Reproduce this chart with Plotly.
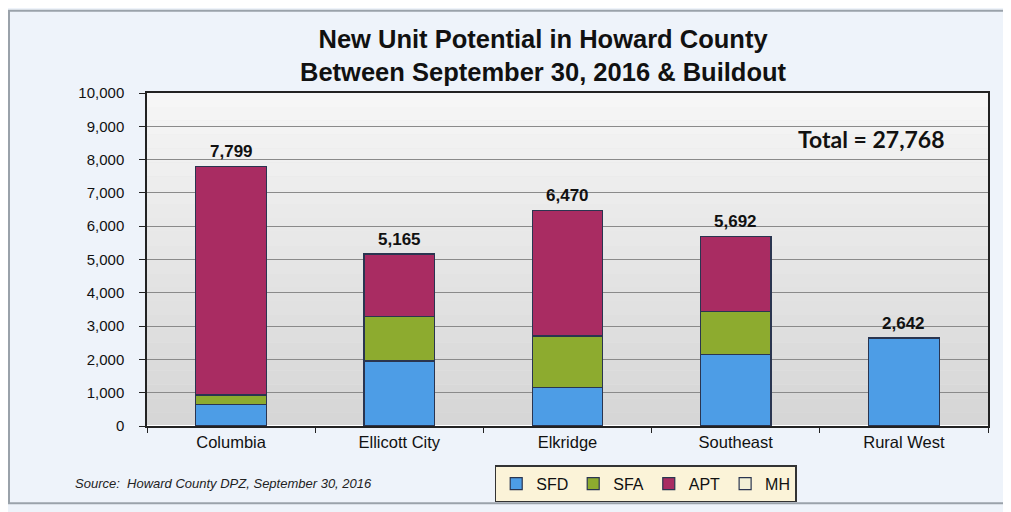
import plotly.graph_objects as go

categories = ["Columbia", "Ellicott City", "Elkridge", "Southeast", "Rural West"]
sfd = [650, 1950, 1150, 2150, 2642]
sfa = [280, 1350, 1550, 1300, 0]
apt = [6869, 1865, 3770, 2242, 0]
mh = [0, 0, 0, 0, 0]
totals = [7799, 5165, 6470, 5692, 2642]
total_label = "Total = 27,768"
y_ticks = [0, 1000, 2000, 3000, 4000, 5000, 6000, 7000, 8000, 9000, 10000]

series = [("SFD", sfd, "#4d9de6"), ("SFA", sfa, "#8dab2f"),
          ("APT", apt, "#a92c62"), ("MH", mh, "#f2f0d6")]

fig = go.Figure()
for name, vals, col in series:
    fig.add_trace(go.Bar(x=categories, y=vals, name=name,
                         marker=dict(color=col, line=dict(color="#2a3550", width=1.2)),
                         width=0.42))

for cat, tot in zip(categories, totals):
    fig.add_annotation(x=cat, y=tot, text=f"<b>{tot:,}</b>", showarrow=False,
                       yanchor="middle", yshift=15,
                       font=dict(family="Arial", size=17, color="#111"))

W, H = 1003, 506
L, R, T, B = 139, 23, 85, 81
PW, PH = W - L - R, H - T - B


def py(y_fig):
    """figure pixel row (from top) -> paper y"""
    return (H - B - y_fig) / PH


fig.update_layout(
    barmode="stack",
    width=W, height=H,
    paper_bgcolor="#eef3fa",
    plot_bgcolor="#e4e4e4",
    margin=dict(l=L, r=R, t=T, b=B),
    font=dict(family="Arial", color="#111"),
    legend=dict(orientation="h", x=0.593, xanchor="center", y=py(465), yanchor="top",
                bgcolor="#fbf3d8", bordercolor="#333", borderwidth=1.5,
                font=dict(family="Arial", size=16, color="#111"),
                traceorder="normal", itemwidth=30),
    xaxis=dict(showline=True, linecolor="#222", linewidth=1.5, mirror=True,
               ticks="outside", tickson="boundaries", ticklen=5, tickcolor="#222",
               tickfont=dict(family="Arial", size=16.5, color="#111")),
    yaxis=dict(range=[0, 10000], tickvals=y_ticks, tickformat=",d",
               showgrid=True, gridcolor="#8a8a8a", gridwidth=1,
               showline=True, linecolor="#222", linewidth=1.5, mirror=True,
               ticks="outside", ticklen=6, tickcolor="#222", ticklabelstandoff=12,
               tickfont=dict(family="Arial", size=15, color="#111")),
)

# soft vertical gradient in the plotting area
n = 24
for i in range(n):
    t = i / (n - 1)
    c = int(214 + (246 - 214) * t)
    fig.add_shape(type="rect", xref="paper", yref="paper", x0=0, x1=1,
                  y0=i / n, y1=(i + 1) / n, line=dict(width=0),
                  fillcolor=f"rgb({c},{c},{c})", layer="below")

fig.add_annotation(text="<b>New Unit Potential in Howard County<br>Between September 30, 2016 & Buildout</b>",
                   xref="paper", yref="paper", x=0.471, y=py(47), xanchor="center",
                   yanchor="middle", showarrow=False,
                   font=dict(family="Arial", size=25.5, color="#111"))
fig.add_annotation(text="<b>" + total_label + "</b>", xref="paper", yref="paper",
                   x=0.861, y=py(131.5), xanchor="center", yanchor="middle", showarrow=False,
                   font=dict(family="Lato", size=23, color="#111"))
fig.add_annotation(text="<i>Source:  Howard County DPZ, September 30, 2016</i>",
                   xref="paper", yref="paper", x=-0.088, y=py(483.5), xanchor="left",
                   yanchor="middle", showarrow=False,
                   font=dict(family="Arial", size=13, color="#222"))
# outer frame
fig.add_shape(type="rect", xref="paper", yref="paper",
              x0=-(L - 1) / PW, x1=(W - L - 2) / PW,
              y0=py(H - 2), y1=py(1),
              line=dict(color="#9aa2aa", width=2), fillcolor="rgba(0,0,0,0)", layer="above")

fig.write_html("out.html")
